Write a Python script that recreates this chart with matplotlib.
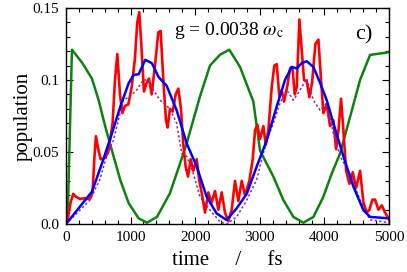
import matplotlib
matplotlib.use("Agg")
import matplotlib.pyplot as plt
from matplotlib.ticker import MultipleLocator

plt.rcParams['font.family'] = ['Liberation Serif', 'DejaVu Serif']
plt.rcParams['mathtext.fontset'] = 'stix'

# green curve
t_green = [0, 30, 93, 250, 402, 506, 609, 712, 841, 970, 1125, 1254, 1409, 1610, 1765, 1868,
           2074, 2229, 2384, 2528, 2694, 2900, 3003, 3209, 3364, 3519, 3674, 3829, 3983,
           4112, 4241, 4400, 4551, 4706, 4964, 5000]
p_green = [0.0, 0.01, 0.121, 0.112, 0.101, 0.086, 0.0676, 0.051, 0.0306, 0.0146, 0.004, 0.001,
           0.005, 0.0215, 0.042, 0.056, 0.0886, 0.110, 0.1175, 0.121, 0.109, 0.085, 0.051,
           0.033, 0.0167, 0.005, 0.001, 0.005, 0.019, 0.035, 0.049, 0.075, 0.100, 0.1174,
           0.119, 0.1195]

# blue curve
t_blue = [0, 402, 557, 712, 841, 970, 1047, 1125, 1228, 1331, 1434, 1558, 1713, 1868, 2023,
          2177, 2332, 2487, 2642, 2797, 2952, 3106, 3261, 3390, 3493, 3570, 3648, 3725,
          3829, 3932, 4035, 4138, 4293, 4448, 4602, 4706, 5000]
p_blue = [0.0, 0.0225, 0.042, 0.063, 0.0815, 0.0977, 0.1035, 0.104, 0.114, 0.1116, 0.102, 0.096,
          0.079, 0.056, 0.040, 0.019, 0.0074, 0.0028, 0.011, 0.021, 0.040, 0.058, 0.0816,
          0.100, 0.109, 0.108, 0.1117, 0.113, 0.109, 0.098, 0.086, 0.070, 0.047, 0.026,
          0.0097, 0.005, 0.004]

# purple dotted curve
t_purple = [0, 372, 526, 630, 733, 888, 990, 1094, 1197, 1275, 1352, 1455, 1610, 1713, 1790,
            1868, 1971, 2074, 2229, 2384, 2487, 2642, 2797, 2952, 3106, 3210, 3313, 3416,
            3519, 3622, 3725, 3829, 3932, 4035, 4138, 4241, 4396, 4551, 4706, 5000]
p_purple = [0.0, 0.0167, 0.031, 0.047, 0.058, 0.086, 0.0886, 0.093, 0.100, 0.100, 0.093,
            0.086, 0.080, 0.070, 0.049, 0.047, 0.035, 0.019, 0.0097, 0.0016, 0.0, 0.005,
            0.0167, 0.031, 0.058, 0.070, 0.084, 0.093, 0.086, 0.093, 0.101, 0.086, 0.079,
            0.084, 0.063, 0.047, 0.035, 0.0167, 0.003, 0.001]

# red curve
t_red = [0, 26, 72, 113, 155, 217, 294, 372, 413, 439, 464, 500, 537, 604, 655, 722, 759,
         795, 836, 872, 913, 965, 1017, 1068, 1104, 1135, 1166, 1207, 1249, 1285, 1326,
         1378, 1429, 1465, 1507, 1548, 1574, 1610, 1651, 1698, 1739, 1780, 1816, 1852,
         1889, 1930, 1971, 2023, 2064, 2100, 2152, 2203, 2255, 2307, 2358, 2410, 2461,
         2513, 2565, 2616, 2668, 2720, 2771, 2838, 2890, 2926, 2962, 3003, 3055, 3091,
         3132, 3184, 3225, 3261, 3303, 3339, 3375, 3426, 3468, 3504, 3540, 3571, 3612,
         3653, 3684, 3726, 3767, 3808, 3860, 3906, 3947, 3983, 4035, 4087, 4138, 4180,
         4216, 4257, 4293, 4335, 4386, 4438, 4489, 4551, 4603, 4654, 4696, 4742, 4783,
         4835, 4887, 4938, 4990, 5000]
p_red = [0.0, 0.003, 0.015, 0.021, 0.019, 0.0175, 0.018, 0.0175, 0.022, 0.045, 0.061, 0.052,
         0.045, 0.046, 0.050, 0.070, 0.100, 0.118, 0.090, 0.077, 0.082, 0.083, 0.095, 0.115,
         0.140, 0.147, 0.125, 0.092, 0.098, 0.101, 0.090, 0.110, 0.133, 0.134, 0.100, 0.072,
         0.067, 0.080, 0.078, 0.090, 0.094, 0.080, 0.055, 0.040, 0.033, 0.045, 0.037, 0.045,
         0.030, 0.022, 0.008, 0.022, 0.015, 0.023, 0.010, 0.022, 0.008, 0.002, 0.010, 0.030,
         0.016, 0.030, 0.020, 0.030, 0.045, 0.065, 0.069, 0.059, 0.068, 0.055, 0.065, 0.095,
         0.110, 0.111, 0.088, 0.093, 0.085, 0.096, 0.108, 0.109, 0.090, 0.095, 0.142, 0.118,
         0.100, 0.099, 0.088, 0.098, 0.125, 0.128, 0.100, 0.077, 0.083, 0.068, 0.072, 0.052,
         0.065, 0.087, 0.065, 0.037, 0.028, 0.036, 0.025, 0.037, 0.015, 0.008, 0.010, 0.017,
         0.017, 0.010, 0.013, 0.008, 0.004, 0.003]

yticks = [0.0, 0.05, 0.1, 0.15]
ytick_labels = ['0.0', '0.05', '0.1', '0.15']
xticks = [0, 1000, 2000, 3000, 4000, 5000]

fig = plt.figure(figsize=(4.07, 2.72), dpi=100)
ax = fig.add_axes([0.162, 0.176, 0.794, 0.795])

ax.plot(t_green, p_green, color='#108010', lw=1.8)
ax.plot(t_red, p_red, color='#ff0000', lw=1.9)
ax.plot(t_purple, p_purple, color='#8a2a9a', lw=1.1, ls=(0, (1.5, 1.5)))
ax.plot(t_blue, p_blue, color='#0000ff', lw=1.8)

ax.set_xlim(0, 5000)
ax.set_ylim(0, 0.15)
ax.set_xticks(xticks)
ax.set_yticks(yticks)
ax.set_yticklabels(ytick_labels)
ax.xaxis.set_minor_locator(MultipleLocator(200))
ax.yaxis.set_minor_locator(MultipleLocator(0.01))
ax.tick_params(which='both', direction='in', top=True, right=True, labelsize=11, width=0.8)
ax.tick_params(which='major', length=5, pad=5)
ax.tick_params(which='minor', length=3)
for s in ax.spines.values():
    s.set_linewidth(1.0)

ax.set_xlabel('time     /     fs', fontsize=15, labelpad=5)
ax.set_ylabel('population', fontsize=15, labelpad=0)
ax.text(2523, 0.134, r'g = 0.0038 $\omega_{\rm c}$', fontsize=14, ha='center', va='center')
ax.text(4613, 0.131, 'c)', fontsize=16, ha='center', va='center')

fig.savefig('out.png', dpi=100)
